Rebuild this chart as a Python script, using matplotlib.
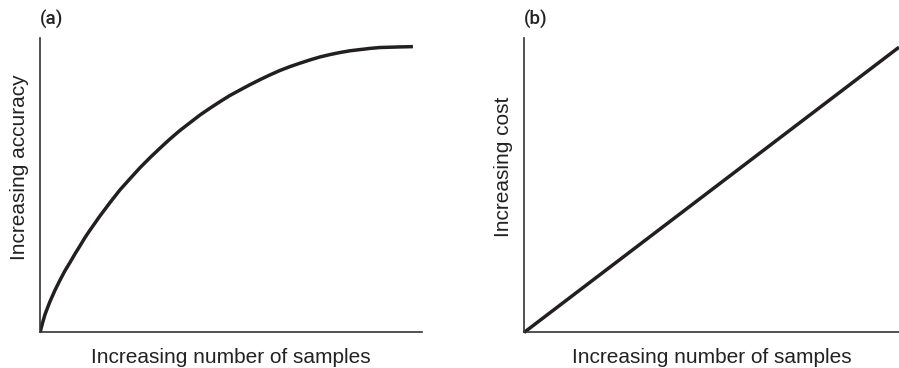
import matplotlib
matplotlib.use("Agg")
import matplotlib.pyplot as plt

plt.rcParams["font.family"] = ["Liberation Sans", "DejaVu Sans"]

# curve (a): accuracy vs number of samples (0-100 scale)
samples_a = [0, 0.7, 1.3, 2.0, 2.6, 3.9, 5.2, 6.5, 7.9, 9.2, 10.5, 11.8, 13.1,
             15.7, 18.3, 20.9, 23.6, 26.2, 28.8, 31.4, 34.0, 36.6, 39.3, 41.9,
             44.5, 47.1, 49.7, 52.4, 55.0, 57.6, 60.2, 62.8, 65.4, 68.1, 70.7,
             73.3, 75.9, 78.5, 81.2, 83.8, 86.4, 89.0, 91.6, 94.2, 97.6]
accuracy = [0, 3.4, 6.1, 8.5, 10.5, 14.3, 17.7, 20.9, 23.9, 26.8, 29.5, 32.3, 34.8,
            39.6, 44.1, 48.4, 52.3, 56.0, 59.4, 62.6, 65.7, 68.6, 71.3, 73.9,
            76.2, 78.4, 80.5, 82.4, 84.2, 85.9, 87.5, 89.0, 90.3, 91.5, 92.6,
            93.6, 94.4, 95.1, 95.7, 96.1, 96.5, 96.8, 96.9, 97.0, 97.1]

# line (b): cost vs number of samples
samples_b = [0, 100]
cost = [0, 96.9]

panel_labels = ["(a)", "(b)"]
ylabels = ["Increasing accuracy", "Increasing cost"]
xlabel = "Increasing number of samples"

INK = "#231f20"
TEXT = "#222222"

fig = plt.figure(figsize=(8.99, 3.68), dpi=100)
ax_a = fig.add_axes([0.0445, 0.0965, 0.425, 0.800])
ax_b = fig.add_axes([0.5829, 0.0965, 0.4171, 0.800])

ax_a.plot(samples_a, accuracy, color=INK, lw=2.5, solid_capstyle="butt",
          solid_joinstyle="round")
ax_b.plot(samples_b, cost, color=INK, lw=2.5, solid_capstyle="butt", clip_on=False)

for ax, ylab, ylx in zip([ax_a, ax_b], ylabels, [-0.03, -0.03]):
    ax.set_xlim(0, 100)
    ax.set_ylim(0, 100)
    ax.spines["top"].set_visible(False)
    ax.spines["right"].set_visible(False)
    for s in ["left", "bottom"]:
        ax.spines[s].set_linewidth(1.2)
        ax.spines[s].set_color("#333333")
    ax.set_xticks([])
    ax.set_yticks([])
    ax.set_xlabel(xlabel, fontsize=15, color=TEXT)
    ax.set_ylabel(ylab, fontsize=15, color=TEXT)
    ax.xaxis.set_label_coords(0.5, -0.052)
    ax.yaxis.set_label_coords(ylx, 0.562)

for tag, left in zip(panel_labels, [40, 524]):
    fig.text(left / 899, 1 - 19 / 368, tag, fontsize=13.5, fontweight="medium",
             family=["Roboto", "Liberation Sans"], color=TEXT, ha="left", va="center")

fig.savefig("out.png", dpi=100)
